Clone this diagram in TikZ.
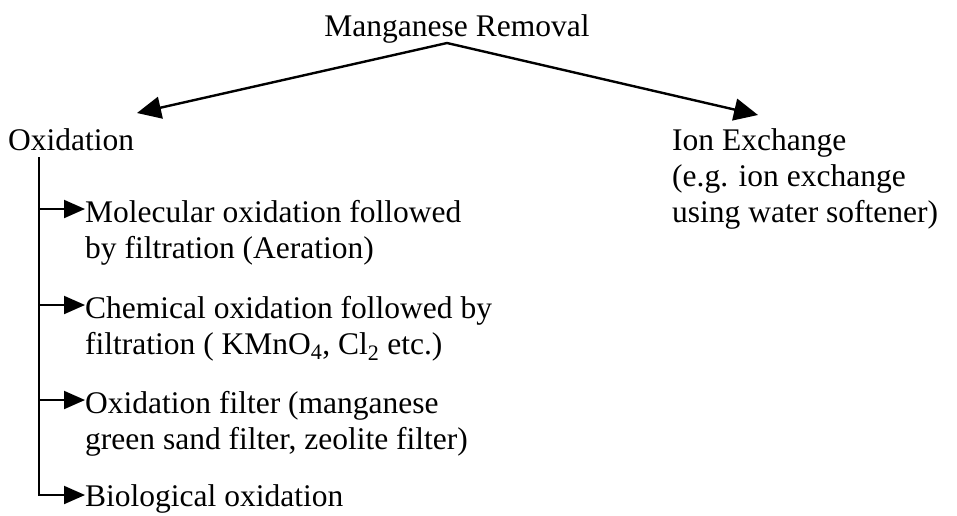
\documentclass[tikz,border=0pt]{standalone}
\usepackage{fontspec}
\setmainfont{Liberation Serif}
\usepackage{tikz}
\usetikzlibrary{arrows.meta, positioning, calc}

\begin{document}
\begin{tikzpicture}[x=1pt, y=-1pt,
    txt/.style={inner sep=0pt, anchor=base west, align=left, font=\fontsize{31.5}{36}\selectfont},
    mainarrow/.style={-{Triangle[length=24pt, width=22pt]}, line width=2.4pt},
    branch/.style={-{Triangle[length=21pt, width=18pt]}, line width=2pt}
]
\useasboundingbox (0,0) rectangle (957,515);

% the base anchor of a two-line node sits on its last line
\node[txt, anchor=base] (root) at (457,36) {Manganese Removal};
\node[txt] (oxid) at (8,150) {Oxidation};
\node[txt] (ionex) at (672,222) {Ion Exchange\\(e.g. ion exchange\\using water softener)};

\coordinate (apex) at (447,43);
\coordinate (oxtip) at (137,113);
\coordinate (iontip) at (758,115);
\draw[mainarrow] (apex) -- (oxtip);
\draw[mainarrow] (apex) -- (iontip);

% methods of oxidation
\node[txt] (molox) at (85,258) {Molecular oxidation followed\\by filtration (Aeration)};
\node[txt] (chemox) at (85,354) {Chemical oxidation followed by\\filtration ( KMnO\textsubscript{4}, Cl\textsubscript{2} etc.)};
\node[txt] (filtox) at (85,449) {Oxidation filter (manganese\\green sand filter, zeolite filter)};
\node[txt] (bioox) at (85,506) {Biological oxidation};

\coordinate (trunk) at (39,157);
\draw[branch] (trunk) |- ($(bioox.base west)+(0,-11)$);
\foreach \item in {molox, chemox, filtox}
  \draw[branch] ($(\item.base west)+(-46,-49)$) -- ($(\item.base west)+(0,-49)$);
\end{tikzpicture}
\end{document}
